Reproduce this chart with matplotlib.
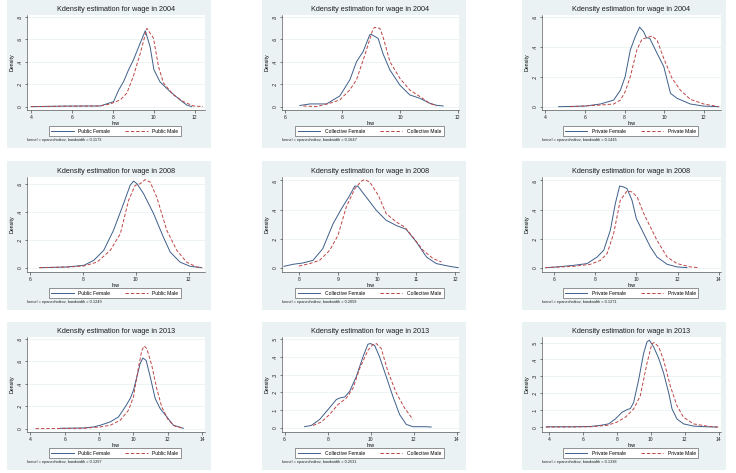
import matplotlib
matplotlib.use('Agg')
import matplotlib.pyplot as plt
from matplotlib.patches import Rectangle
from matplotlib.lines import Line2D

plt.rcParams['font.family'] = ['Liberation Sans', 'DejaVu Sans']

# ---- data (lnw, density) ----
pub04_f_x = [4.0, 5.75, 7.38, 8.03, 8.28, 8.52, 8.76, 9.0, 9.33, 9.58, 9.82, 10.0, 10.3, 10.8, 11.28, 11.6, 11.85]
pub04_f_y = [0.0, 0.005, 0.006, 0.044, 0.148, 0.222, 0.326, 0.415, 0.563, 0.675, 0.53, 0.33, 0.22, 0.133, 0.06, 0.015, 0.0]
pub04_m_x = [4.0, 5.75, 7.38, 7.87, 8.36, 8.68, 9.0, 9.33, 9.66, 9.98, 10.23, 10.47, 10.96, 11.45, 11.93, 12.4]
pub04_m_y = [0.0, 0.004, 0.006, 0.024, 0.06, 0.12, 0.27, 0.47, 0.696, 0.61, 0.355, 0.21, 0.104, 0.044, 0.006, 0.0]

col04_f_x = [6.52, 6.87, 7.45, 7.68, 7.91, 8.26, 8.49, 8.72, 8.95, 9.0, 9.24, 9.41, 9.65, 10.0, 10.34, 10.69, 11.03, 11.27, 11.5]
col04_f_y = [0.01, 0.024, 0.024, 0.06, 0.095, 0.24, 0.40, 0.49, 0.64, 0.643, 0.607, 0.47, 0.326, 0.19, 0.104, 0.074, 0.03, 0.012, 0.006]
col04_m_x = [6.64, 7.1, 7.56, 7.91, 8.26, 8.49, 8.78, 9.06, 9.12, 9.3, 9.41, 9.65, 10.0, 10.34, 10.69, 11.03, 11.27]
col04_m_y = [0.006, 0.0, 0.03, 0.06, 0.15, 0.24, 0.46, 0.69, 0.705, 0.696, 0.62, 0.40, 0.25, 0.148, 0.09, 0.03, 0.006]

pri04_f_x = [4.67, 6.0, 6.78, 7.45, 7.79, 8.03, 8.29, 8.54, 8.76, 8.96, 9.1, 9.27, 9.64, 9.98, 10.32, 10.65, 11.32, 12.0, 12.76]
pri04_f_y = [0.0, 0.004, 0.018, 0.044, 0.11, 0.2, 0.378, 0.467, 0.53, 0.5, 0.46, 0.456, 0.356, 0.267, 0.089, 0.056, 0.018, 0.004, 0.0]
pri04_m_x = [5.26, 6.78, 7.45, 7.79, 8.03, 8.29, 8.62, 8.88, 9.13, 9.38, 9.64, 9.98, 10.4, 10.82, 11.32, 12.0, 12.76]
pri04_m_y = [0.0, 0.011, 0.018, 0.044, 0.1, 0.2, 0.378, 0.45, 0.46, 0.471, 0.444, 0.322, 0.189, 0.11, 0.049, 0.018, 0.0]

pub08_f_x = [6.35, 7.39, 8.03, 8.4, 8.78, 9.15, 9.53, 9.78, 9.91, 10.04, 10.29, 10.67, 11.04, 11.3, 11.67, 12.05, 12.5]
pub08_f_y = [0.0, 0.005, 0.017, 0.052, 0.124, 0.267, 0.457, 0.588, 0.619, 0.6, 0.529, 0.386, 0.219, 0.112, 0.04, 0.01, 0.0]
pub08_m_x = [6.35, 7.39, 8.03, 8.53, 9.03, 9.41, 9.72, 9.97, 10.16, 10.35, 10.54, 10.79, 11.17, 11.55, 11.92, 12.3, 12.5]
pub08_m_y = [0.0, 0.004, 0.012, 0.04, 0.124, 0.243, 0.48, 0.588, 0.6, 0.629, 0.612, 0.505, 0.267, 0.124, 0.04, 0.005, 0.0]

col08_f_x = [7.62, 7.85, 8.1, 8.36, 8.61, 8.87, 9.09, 9.3, 9.43, 9.51, 9.72, 9.98, 10.23, 10.49, 10.74, 11.0, 11.26, 11.51, 11.85, 12.07]
col08_f_y = [0.009, 0.023, 0.032, 0.05, 0.13, 0.30, 0.406, 0.498, 0.562, 0.56, 0.486, 0.394, 0.326, 0.29, 0.264, 0.177, 0.073, 0.028, 0.009, 0.0]
col08_m_x = [8.0, 8.28, 8.53, 8.79, 9.0, 9.21, 9.43, 9.6, 9.68, 9.81, 10.03, 10.23, 10.49, 10.7, 10.91, 11.17, 11.43, 11.64]
col08_m_y = [0.011, 0.028, 0.05, 0.12, 0.222, 0.417, 0.544, 0.596, 0.606, 0.59, 0.498, 0.372, 0.314, 0.28, 0.211, 0.12, 0.062, 0.039]

pri08_f_x = [5.6, 6.16, 6.97, 7.61, 8.1, 8.42, 8.74, 8.98, 9.19, 9.39, 9.55, 9.79, 10.0, 10.36, 10.68, 11.0, 11.49, 11.97, 12.45]
pri08_f_y = [0.0, 0.005, 0.016, 0.028, 0.073, 0.12, 0.257, 0.44, 0.562, 0.555, 0.544, 0.463, 0.337, 0.234, 0.142, 0.073, 0.023, 0.005, 0.0]
pri08_m_x = [5.6, 6.97, 7.77, 8.26, 8.58, 8.9, 9.22, 9.55, 9.79, 10.04, 10.36, 10.68, 11.0, 11.49, 11.97, 12.62, 13.03]
pri08_m_y = [0.0, 0.009, 0.023, 0.05, 0.096, 0.234, 0.463, 0.528, 0.521, 0.486, 0.372, 0.28, 0.188, 0.073, 0.028, 0.005, 0.0]

pub13_f_x = [5.74, 7.1, 7.68, 8.07, 8.65, 9.13, 9.52, 9.81, 10.0, 10.2, 10.39, 10.55, 10.74, 10.98, 11.27, 11.56, 11.95, 12.33, 12.91]
pub13_f_y = [0.003, 0.006, 0.015, 0.03, 0.06, 0.104, 0.193, 0.267, 0.34, 0.46, 0.578, 0.628, 0.607, 0.46, 0.267, 0.178, 0.104, 0.03, 0.003]
pub13_m_x = [4.3, 7.1, 8.07, 8.65, 9.23, 9.71, 10.0, 10.3, 10.49, 10.63, 10.78, 11.07, 11.36, 11.65, 12.04, 12.43, 12.91]
pub13_m_y = [0.0, 0.003, 0.015, 0.03, 0.074, 0.163, 0.281, 0.548, 0.696, 0.735, 0.711, 0.563, 0.355, 0.193, 0.074, 0.021, 0.003]

col13_f_x = [6.93, 7.24, 7.63, 8.02, 8.4, 8.56, 8.79, 9.02, 9.33, 9.64, 9.87, 9.98, 10.18, 10.41, 10.72, 11.03, 11.34, 11.65, 11.96, 12.58, 12.81]
col13_f_y = [0.006, 0.013, 0.047, 0.103, 0.159, 0.168, 0.174, 0.205, 0.289, 0.401, 0.472, 0.476, 0.466, 0.401, 0.289, 0.177, 0.075, 0.019, 0.006, 0.006, 0.004]
col13_m_x = [7.32, 7.7, 8.09, 8.48, 8.87, 9.18, 9.49, 9.87, 10.1, 10.26, 10.49, 10.8, 11.19, 11.57, 11.96]
col13_m_y = [0.013, 0.032, 0.075, 0.131, 0.168, 0.224, 0.336, 0.438, 0.47, 0.476, 0.448, 0.317, 0.196, 0.112, 0.047]

pri13_f_x = [3.82, 5.44, 6.42, 7.01, 7.5, 7.9, 8.29, 8.59, 8.79, 8.98, 9.28, 9.57, 9.77, 9.91, 10.16, 10.46, 10.75, 11.05, 11.25, 11.54, 11.93, 12.52, 13.31, 13.9]
pri13_f_y = [0.002, 0.002, 0.004, 0.01, 0.019, 0.048, 0.087, 0.103, 0.11, 0.145, 0.281, 0.436, 0.504, 0.514, 0.475, 0.407, 0.32, 0.203, 0.107, 0.048, 0.019, 0.006, 0.002, 0.0]
pri13_m_x = [3.82, 6.42, 7.4, 7.99, 8.49, 8.98, 9.37, 9.77, 10.06, 10.2, 10.46, 10.75, 11.15, 11.54, 11.93, 12.52, 13.31, 14.0]
pri13_m_y = [0.0, 0.002, 0.01, 0.029, 0.058, 0.107, 0.184, 0.378, 0.494, 0.5, 0.475, 0.397, 0.242, 0.126, 0.058, 0.019, 0.006, 0.0]

years = ['2004', '2008', '2013']
sectors = ['Public', 'Collective', 'Private']
bandwidths = [['0.1173', '0.1647', '0.1445'],
              ['0.1249', '0.2059', '0.1271'],
              ['0.1297', '0.2531', '0.1338']]

curves = [
    [(pub04_f_x, pub04_f_y, pub04_m_x, pub04_m_y),
     (col04_f_x, col04_f_y, col04_m_x, col04_m_y),
     (pri04_f_x, pri04_f_y, pri04_m_x, pri04_m_y)],
    [(pub08_f_x, pub08_f_y, pub08_m_x, pub08_m_y),
     (col08_f_x, col08_f_y, col08_m_x, col08_m_y),
     (pri08_f_x, pri08_f_y, pri08_m_x, pri08_m_y)],
    [(pub13_f_x, pub13_f_y, pub13_m_x, pub13_m_y),
     (col13_f_x, col13_f_y, col13_m_x, col13_m_y),
     (pri13_f_x, pri13_f_y, pri13_m_x, pri13_m_y)],
]

# axis settings per panel: xlim, ylim, xticks, yticks
xlims = [[(3.8, 12.5), (5.9, 12.05), (3.83, 12.87)],
         [(5.87, 12.62), (7.57, 12.09), (5.43, 14.1)],
         [(3.8, 14.17), (5.88, 14.1), (3.57, 14.14)]]
ylims = [[(-0.03, 0.815), (-0.03, 0.815), (-0.022, 0.611)],
         [(-0.031, 0.648), (-0.03, 0.624), (-0.03, 0.624)],
         [(-0.03, 0.815), (-0.024, 0.513), (-0.029, 0.533)]]
xticks = [[[4, 6, 8, 10, 12], [6, 8, 10, 12], [4, 6, 8, 10, 12]],
          [[6, 8, 10, 12], [8, 9, 10, 11, 12], [6, 8, 10, 12, 14]],
          [[4, 6, 8, 10, 12, 14], [6, 8, 10, 12, 14], [4, 6, 8, 10, 12, 14]]]
yticks = [[[0, .2, .4, .6, .8], [0, .2, .4, .6, .8], [0, .2, .4, .6]],
          [[0, .2, .4, .6], [0, .2, .4, .6], [0, .2, .4, .6]],
          [[0, .2, .4, .6, .8], [0, .1, .2, .3, .4, .5], [0, .1, .2, .3, .4, .5]]]

W, H = 736, 473
female_color = '#3e5f8a'
male_color = '#bf4545'
bg_color = '#eaf2f3'

# pixel layout (left, right) per column and (top, bottom) per row
bg_cols = [(7, 211), (262, 466), (522, 726)]
bg_rows = [(0, 148), (161, 310), (322, 470)]
ax_cols = [(27, 205), (282, 459), (542, 721)]
ax_rows = [(15, 110), (177, 272), (337, 432)]


def fx(px):
    return px / W


def fy(py):
    return 1 - py / H


def ylab(v):
    s = ('%g' % v)
    return s[1:] if s.startswith('0.') else s


fig = plt.figure(figsize=(W / 100, H / 100), dpi=100)
fig.patch.set_facecolor('white')

for r in range(3):
    for c in range(3):
        bx0, bx1 = bg_cols[c]
        by0, by1 = bg_rows[r]
        fig.patches.append(Rectangle((fx(bx0), fy(by1)), fx(bx1 - bx0), (by1 - by0) / H,
                                     transform=fig.transFigure, facecolor=bg_color,
                                     edgecolor='none', zorder=-5))
        ax0, ax1 = ax_cols[c]
        ay0, ay1 = ax_rows[r]
        ax = fig.add_axes([fx(ax0), fy(ay1), fx(ax1 - ax0), (ay1 - ay0) / H], zorder=2)
        ax.set_facecolor('white')
        fxs, fys, mxs, mys = curves[r][c]
        ax.plot(fxs, fys, color=female_color, lw=0.7, solid_joinstyle='round')
        ax.plot(mxs, mys, color=male_color, lw=0.7, dashes=(3.5, 2))
        ax.set_xlim(*xlims[r][c])
        ax.set_ylim(*ylims[r][c])
        ax.set_xticks(xticks[r][c])
        ax.set_yticks(yticks[r][c])
        ax.set_yticklabels([ylab(v) for v in yticks[r][c]], rotation=90, va='center')
        ax.tick_params(labelsize=3.6, length=1.8, width=0.4, pad=1.5, colors='#222222')
        for s in ('top', 'right'):
            ax.spines[s].set_visible(False)
        for s in ('left', 'bottom'):
            ax.spines[s].set_linewidth(0.4)
            ax.spines[s].set_color('#333333')
        ax.grid(axis='y', color=bg_color, lw=0.6)
        ax.set_axisbelow(True)
        ax.set_xlabel('lnw', fontsize=3.8, labelpad=1)
        ax.set_ylabel('Density', fontsize=3.8, labelpad=2)
        ax.set_title('Kdensity estimation for wage in ' + years[r], fontsize=5.2,
                     pad=3, color='#1e1e1e')

        # legend box under the axes
        lcx = (ax0 + ax1) / 2 - 1
        ly = ay1 + 21
        handles = [Line2D([], [], color=female_color, lw=0.7),
                   Line2D([], [], color=male_color, lw=0.7, dashes=(3.5, 2))]
        leg = fig.legend(handles, [sectors[c] + ' Female', sectors[c] + ' Male'],
                         loc='center', ncol=2, bbox_to_anchor=(fx(lcx), fy(ly)),
                         fontsize=3.6, handlelength=4.5, handletextpad=0.9,
                         borderpad=0.45, columnspacing=3.0, fancybox=False,
                         framealpha=1, edgecolor='#444444')
        leg.get_frame().set_linewidth(0.4)
        leg.set_zorder(3)

        fig.text(fx(ax0), fy(ay1 + 30), 'kernel = epanechnikov, bandwidth = ' + bandwidths[r][c],
                 fontsize=2.8, va='center', ha='left', color='#222222')

fig.savefig('out.png', dpi=100, facecolor='white')
